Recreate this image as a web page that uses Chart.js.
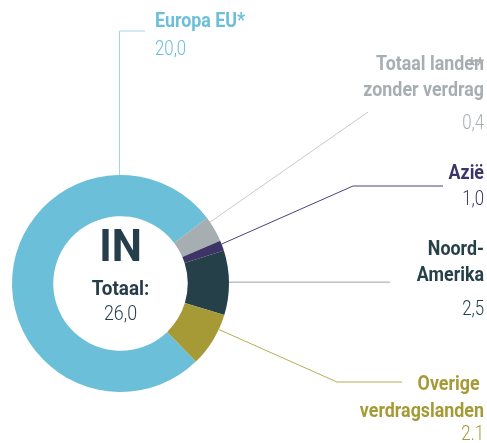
<!DOCTYPE html>
<html>
<head>
<meta charset="utf-8">
<script src="https://cdn.jsdelivr.net/npm/chart.js@4.4.1/dist/chart.umd.min.js"></script>
<style>
    html, body { margin: 0; padding: 0; background: #ffffff; }
    #wrap { width: 487px; height: 443px; }
</style>
</head>
<body>
<div id="wrap"><canvas id="regionChart" width="487" height="443"></canvas></div>
<script>
// Regions (order clockwise from the big blue slice)
const categories = ['Europa EU*', 'Totaal landen zonder verdrag', 'Azië', 'Noord-Amerika', 'Overige verdragslanden'];
const labelLines = [['Europa EU*'], ['Totaal landen', 'zonder verdrag'], ['Azië'], ['Noord-', 'Amerika'], ['Overige ', 'verdragslanden']];
// slice sizes as drawn in the picture
const sliceValues = [20.0, 1.0, 0.4, 2.5, 2.1];
// numbers printed next to the labels
const valueLabels = ['20,0', '0,4', '1,0', '2,5', '2.1'];
const centerTitle = 'IN';
const centerLabel = 'Totaal:';
const centerValue = '26,0';

const sliceColors = ['#6bbfd9', '#a6aeb1', '#3e3468', '#26404a', '#a69a36'];
const textColors = ['#6bbfd9', '#a6aeb1', '#3e3468', '#26404a', '#a69a36'];
const lineColors = ['#a3d6e8', '#c6cacc', '#4a4080', '#98a3a8', '#b8ad55'];

const BOLD = 'bold 21px Roboto, "Liberation Sans", sans-serif';
const LIGHT = '300 21px Roboto, "Liberation Sans", sans-serif';

// label layout: anchor fraction along slice, bend points (null = keep start coord), text position
const labelLayout = [
    { frac: 0.807, bends: [[null, 31], [145, 31]], x: 155, align: 'left', lines: [21.5], value: 49.5 },
    { frac: 0.19, bends: [[368, 112]], x: 484, align: 'right', lines: [65, 91], value: 124 },
    { frac: 0.35, bends: [[353, 186], [443, 186]], x: 484, align: 'right', lines: [174], value: 200 },
    { frac: 0.49, bends: [[390, null]], x: 484, align: 'right', lines: [250, 276], value: 310 },
    { frac: 0.28, bends: [[337, 382], [402, 382]], x: 484, align: 'right', lines: [384.5, 412], value: 435 }
];

// narrow text: the original uses a condensed face
function drawText(ctx, text, x, y, font, align, sx) {
    ctx.save();
    ctx.font = font;
    ctx.textAlign = align;
    ctx.translate(x, y);
    ctx.scale(sx, 1);
    ctx.fillText(text, 0, 0);
    ctx.restore();
}

const labelPlugin = {
    id: 'sliceLabels',
    afterDraw(chart) {
        const { ctx } = chart;
        const meta = chart.getDatasetMeta(0);
        ctx.save();

        // leader lines
        meta.data.forEach((arc, i) => {
            const lay = labelLayout[i];
            const a = arc.startAngle + lay.frac * (arc.endAngle - arc.startAngle);
            const sx = arc.x + Math.cos(a) * arc.outerRadius;
            const sy = arc.y + Math.sin(a) * arc.outerRadius;
            ctx.strokeStyle = lineColors[i];
            ctx.lineWidth = 1;
            ctx.beginPath();
            ctx.moveTo(sx, sy);
            lay.bends.forEach(([bx, by]) => {
                ctx.lineTo(bx === null ? sx : bx, by === null ? sy : by);
            });
            ctx.stroke();
        });

        // texts
        ctx.textBaseline = 'middle';
        labelLines.forEach((lines, i) => {
            const lay = labelLayout[i];
            ctx.fillStyle = textColors[i];
            lines.forEach((t, j) => drawText(ctx, t, lay.x, lay.lines[j], BOLD, lay.align, 0.85));
            drawText(ctx, valueLabels[i], lay.x, lay.value, LIGHT, lay.align, 0.8);
        });
        // stray asterisks printed over "landen" in the original
        ctx.fillStyle = textColors[1];
        drawText(ctx, '**', 484, 67, BOLD, 'right', 0.85);

        // centre text
        const cx = meta.data[0].x;
        ctx.fillStyle = '#263e4b';
        drawText(ctx, centerTitle, cx, 250, 'bold 45px Roboto, sans-serif', 'center', 0.95);
        drawText(ctx, centerLabel, cx, 290, 'bold 21px Roboto, sans-serif', 'center', 0.9);
        drawText(ctx, centerValue, cx, 315, '300 21px Roboto, sans-serif', 'center', 0.85);

        ctx.restore();
    }
};

new Chart(document.getElementById('regionChart'), {
    type: 'doughnut',
    data: {
        labels: categories,
        datasets: [{
            data: sliceValues,
            backgroundColor: sliceColors,
            borderWidth: 0
        }]
    },
    options: {
        responsive: false,
        animation: false,
        devicePixelRatio: 1,
        cutout: '62%',
        rotation: 136,
        layout: {
            padding: { left: 12, top: 175, right: 258, bottom: 51 }
        },
        plugins: {
            legend: { display: false },
            tooltip: { enabled: false }
        }
    },
    plugins: [labelPlugin]
});
</script>
</body>
</html>
